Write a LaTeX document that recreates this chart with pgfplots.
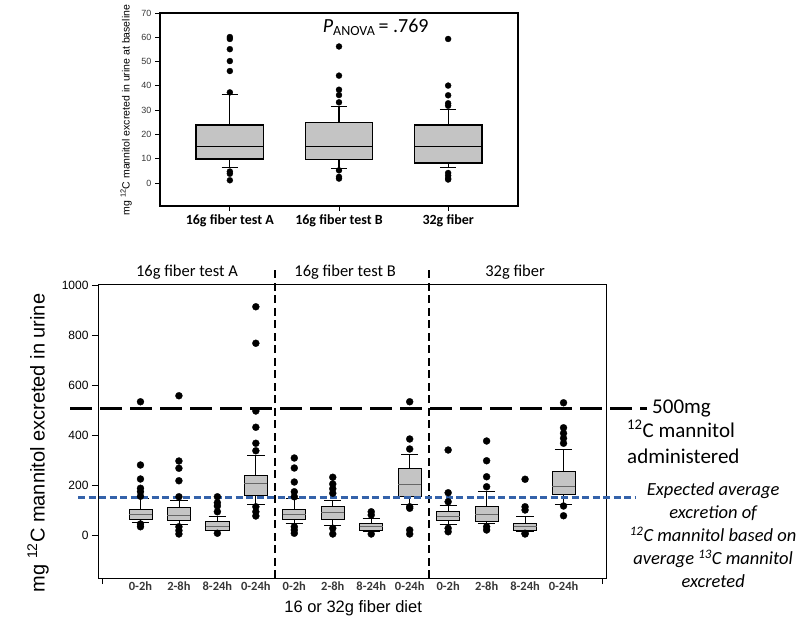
\documentclass[border=0pt]{standalone}
\usepackage{fontspec}
\setmainfont{Carlito}
\newfontfamily\arial{Liberation Sans}
\usepackage{pgfplots}
\pgfplotsset{compat=1.18}
\usepgfplotslibrary{statistics}
\definecolor{boxgray}{RGB}{196,196,196}
\definecolor{refblue}{RGB}{52,98,170}
\definecolor{ticktext}{RGB}{55,55,55}
\pgfplotsset{
  tbox/.style={boxplot/draw direction=y, draw=black, line width=1.2pt, fill=boxgray, mark=*, mark size=3pt,
    mark options={fill=black, draw=black, line width=0.3pt, solid},
    boxplot/box extend=0.62, boxplot/whisker extend=0.15,
    boxplot/every median/.style={draw=black, line width=1.3pt}},
  bbox/.style={boxplot/draw direction=y, draw=black, line width=0.8pt, fill=boxgray, mark=*, mark size=3.5pt,
    mark options={fill=black, draw=black, line width=0.3pt, solid},
    boxplot/box extend=0.6, boxplot/whisker extend=0.45,
    boxplot/every median/.style={draw=black!60, line width=1pt}},
}
\begin{document}
\begin{tikzpicture}
\useasboundingbox (0,0) rectangle (800pt,622pt);
% ---------------- top chart ----------------
\begin{axis}[
  at={(160pt,416pt)}, anchor=south west,
  scale only axis, width=358pt, height=193pt,
  xmin=0.36, xmax=3.64, ymin=-9.5, ymax=70,
  xtick={1,2,3}, xticklabels={16g fiber test A,16g fiber test B,32g fiber},
  ytick={0,10,...,70},
  tick align=outside, xtick pos=left, ytick pos=left,
  major tick length=5pt,
  axis line style={line width=1.3pt},
  tick style={line width=0.8pt, black},
  xticklabel style={font=\fontsize{14}{16}\selectfont\bfseries},
  yticklabel style={font=\arial\fontsize{9}{10}\selectfont, text=ticktext},
  /pgf/number format/assume math mode=true,
  clip=false,
]
\addplot[tbox, boxplot prepared={draw position=1, lower whisker=6.2, lower quartile=9.9, median=15.1, upper quartile=23.9, upper whisker=36.5}]
  coordinates {(0,60.1) (0,59.3) (0,55.1) (0,50.2) (0,46.1) (0,37.3) (0,4.7) (0,3.8) (0,1.1)};
\addplot[tbox, boxplot prepared={draw position=2, lower whisker=5.9, lower quartile=9.5, median=15.1, upper quartile=25.0, upper whisker=31.6}]
  coordinates {(0,56.2) (0,44.2) (0,38.4) (0,36.2) (0,33.2) (0,5.2) (0,2.5) (0,1.8)};
\addplot[tbox, boxplot prepared={draw position=3, lower whisker=6.4, lower quartile=8.2, median=15.1, upper quartile=23.9, upper whisker=30.2}]
  coordinates {(0,59.3) (0,40.1) (0,36.1) (0,32.8) (0,31.8) (0,4.1) (0,3.0) (0,1.9) (0,1.4)};
\node[anchor=west, font=\fontsize{20}{22}\selectfont] at (axis cs:1.82,64.2) {\textit{P}\textsubscript{ANOVA}\,= .769};
\node[rotate=90, font=\arial\fontsize{10.5}{12}\selectfont] at (axis cs:0.05,30) {mg \textsuperscript{12}C mannitol excreted in urine at baseline};
\end{axis}
% ---------------- bottom chart ----------------
\begin{axis}[
  at={(98pt,44pt)}, anchor=south west,
  scale only axis, width=508pt, height=294pt,
  xmin=-0.104, xmax=13.104, ymin=-172, ymax=1004,
  xtick={0,13}, xticklabels={,},
  extra x ticks={1,2,3,4,5,6,7,8,9,10,11,12},
  extra x tick labels={0-2h,2-8h,8-24h,0-24h,0-2h,2-8h,8-24h,0-24h,0-2h,2-8h,8-24h,0-24h},
  extra x tick style={major tick length=0pt},
  ytick={0,200,400,600,800,1000},
  yticklabels={0,200,400,600,800,1000},
  tick align=outside, xtick pos=left, ytick pos=left,
  major tick length=6pt,
  axis line style={line width=1pt},
  tick style={line width=0.8pt, black},
  xticklabel style={font=\fontsize{12.5}{14}\selectfont\bfseries, text=ticktext},
  yticklabel style={font=\arial\fontsize{12}{14}\selectfont, text=black},
  clip=false,
]
% group A
\addplot[bbox, boxplot prepared={draw position=1, lower whisker=49, lower quartile=63, median=83, upper quartile=103, upper whisker=147}]
  coordinates {(0,533) (0,280) (0,224) (0,187) (0,173) (0,155) (0,44) (0,33)};
\addplot[bbox, boxplot prepared={draw position=2, lower whisker=44, lower quartile=57, median=80, upper quartile=109, upper whisker=137}]
  coordinates {(0,557) (0,296) (0,267) (0,217) (0,153) (0,33) (0,18) (0,4)};
\addplot[bbox, boxplot prepared={draw position=3, lower whisker=17, lower quartile=20, median=36, upper quartile=53, upper whisker=76}]
  coordinates {(0,153) (0,129) (0,116) (0,93) (0,7)};
\addplot[bbox, boxplot prepared={draw position=4, lower whisker=124, lower quartile=157, median=207, upper quartile=237, upper whisker=320}]
  coordinates {(0,913) (0,767) (0,496) (0,431) (0,367) (0,337) (0,113) (0,93) (0,76)};
% group B
\addplot[bbox, boxplot prepared={draw position=5, lower whisker=47, lower quartile=64, median=84, upper quartile=103, upper whisker=147}]
  coordinates {(0,308) (0,268) (0,212) (0,173) (0,153) (0,33) (0,20) (0,7)};
\addplot[bbox, boxplot prepared={draw position=6, lower whisker=40, lower quartile=64, median=89, upper quartile=113, upper whisker=140}]
  coordinates {(0,231) (0,204) (0,185) (0,167) (0,27) (0,4)};
\addplot[bbox, boxplot prepared={draw position=7, lower whisker=13, lower quartile=17, median=33, upper quartile=47, upper whisker=68}]
  coordinates {(0,93) (0,80) (0,4)};
\addplot[bbox, boxplot prepared={draw position=8, lower whisker=121, lower quartile=153, median=204, upper quartile=265, upper whisker=323}]
  coordinates {(0,533) (0,384) (0,344) (0,113) (0,107) (0,20) (0,4)};
% group C
\addplot[bbox, boxplot prepared={draw position=9, lower whisker=43, lower quartile=60, median=76, upper quartile=93, upper whisker=120}]
  coordinates {(0,340) (0,169) (0,133) (0,27) (0,13)};
\addplot[bbox, boxplot prepared={draw position=10, lower whisker=47, lower quartile=53, median=84, upper quartile=116, upper whisker=173}]
  coordinates {(0,376) (0,297) (0,233) (0,193) (0,33) (0,20)};
\addplot[bbox, boxplot prepared={draw position=11, lower whisker=16, lower quartile=20, median=33, upper quartile=47, upper whisker=73}]
  coordinates {(0,223) (0,113) (0,100) (0,7) (0,4)};
\addplot[bbox, boxplot prepared={draw position=12, lower whisker=123, lower quartile=163, median=193, upper quartile=255, upper whisker=344}]
  coordinates {(0,529) (0,429) (0,407) (0,387) (0,367) (0,116) (0,77)};
% reference lines
\addplot[black, line width=2.6pt, dash pattern=on 8pt off 4.5pt] coordinates {(4.5,-172) (4.5,1068)};
\addplot[black, line width=2.6pt, dash pattern=on 8pt off 4.5pt] coordinates {(8.5,-172) (8.5,1068)};
\addplot[refblue, line width=2.8pt, dash pattern=on 7pt off 3.5pt] coordinates {(-0.62,150) (13.88,150)};
\addplot[black, line width=3.5pt, dash pattern=on 22pt off 8pt] coordinates {(-0.83,506) (14.17,506)};
% texts
\node[font=\fontsize{16.5}{18}\selectfont] at (axis cs:2.21,1052) {16g fiber test A};
\node[font=\fontsize{16.5}{18}\selectfont] at (axis cs:6.32,1052) {16g fiber test B};
\node[font=\fontsize{16.5}{18}\selectfont] at (axis cs:10.74,1052) {32g fiber};
\node[font=\arial\fontsize{16.5}{18}\selectfont] at (axis cs:6.53,-292) {16 or 32g fiber diet};
\node[rotate=90, font=\arial\fontsize{20}{22}\selectfont] at (axis cs:-1.66,368) {mg \textsuperscript{12}C mannitol excreted in urine};
\node[anchor=west, inner sep=0pt, font=\fontsize{21}{24}\selectfont] at (axis cs:14.30,508) {500mg};
\node[anchor=west, inner sep=0pt, font=\fontsize{21}{24}\selectfont] at (axis cs:13.65,424) {\textsuperscript{12}C mannitol};
\node[anchor=west, inner sep=0pt, font=\fontsize{21}{24}\selectfont] at (axis cs:13.65,316) {administered};
\node[align=center, font=\itshape\fontsize{18.5}{23}\selectfont] at (axis cs:15.89,0) {Expected average\\excretion of\\\textsuperscript{12}C mannitol based on\\average \textsuperscript{13}C mannitol\\excreted};
\end{axis}
\end{tikzpicture}
\end{document}
